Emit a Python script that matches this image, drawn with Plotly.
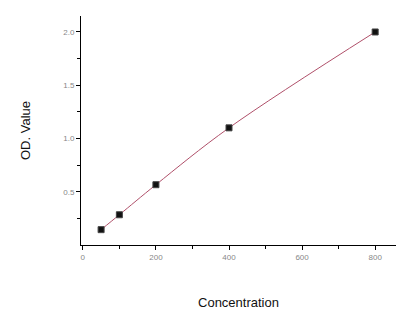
import plotly.graph_objects as go

conc = [50, 100, 200, 400, 800]
od = [0.144, 0.284, 0.566, 1.10, 2.0]

fig = go.Figure()
fig.add_trace(go.Scatter(
    x=conc, y=od, mode="lines+markers",
    line=dict(color="#b0506a", width=1, shape="spline"),
    marker=dict(symbol="square", size=6, color="#111111",
                line=dict(color="#444444", width=1)),
    showlegend=False,
))

fig.update_layout(
    width=411, height=328,
    margin=dict(l=81, r=15, t=16, b=83),
    paper_bgcolor="white", plot_bgcolor="white",
    font=dict(family="Liberation Sans, Arial, sans-serif"),
)
fig.update_xaxes(
    range=[-5, 857], showgrid=False, zeroline=False,
    showline=True, linecolor="black", linewidth=1,
    tickvals=[0, 200, 400, 600, 800], ticks="outside", ticklen=4,
    tickcolor="black", tickfont=dict(size=8, color="#888888"),
    minor=dict(tickvals=[100, 300, 500, 700], ticks="outside", ticklen=3, tickcolor="black"),
    title=dict(text="Concentration", font=dict(size=13, color="#111111"), standoff=37),
)
fig.update_yaxes(
    range=[0, 2.15], showgrid=False, zeroline=False,
    showline=True, linecolor="black", linewidth=1,
    tickvals=[0.5, 1.0, 1.5, 2.0], tickformat=".1f", ticks="outside", ticklen=4,
    tickcolor="black", tickfont=dict(size=8, color="#888888"),
    minor=dict(tickvals=[0.25, 0.75, 1.25, 1.75], ticks="outside", ticklen=3, tickcolor="black"),
    title=dict(text="OD. Value", font=dict(size=13, color="#111111"), standoff=29),
)

fig.write_html("out.html")
